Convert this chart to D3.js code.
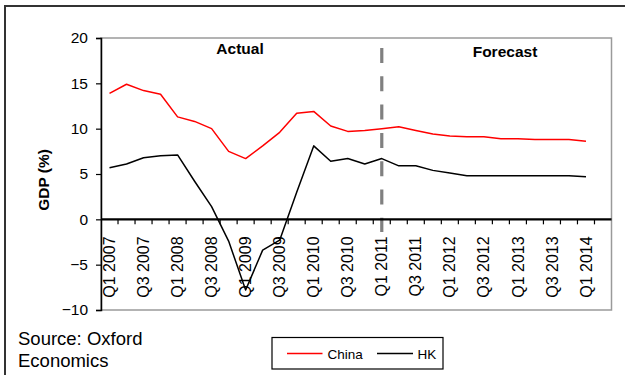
<!DOCTYPE html>
<html>
<head>
<meta charset="utf-8">
<script src="https://cdn.jsdelivr.net/npm/d3@7"></script>
<style>
  html, body { margin: 0; padding: 0; background: #fff; }
  svg { display: block; font-family: "Liberation Sans", Arial, sans-serif; }
</style>
</head>
<body>
<svg id="chart" width="625" height="375"></svg>
<script>
// Quarterly categories, Q1 2007 .. Q2 2014
const quarters = [];
for (let yr = 2007; yr <= 2014; yr++) {
  for (let q = 1; q <= 4; q++) {
    if (yr === 2014 && q > 2) break;
    quarters.push("Q" + q + " " + yr);
  }
}

// Real GDP growth (%), Q1 2007 .. Q1 2014
const china = [13.9, 14.9, 14.2, 13.8, 11.3, 10.8, 10.0, 7.5, 6.7, 8.1,
               9.6, 11.7, 11.9, 10.3, 9.7, 9.8, 10.0, 10.2, 9.8, 9.4,
               9.2, 9.1, 9.1, 8.9, 8.9, 8.8, 8.8, 8.8, 8.6];
const hk = [5.7, 6.1, 6.8, 7.0, 7.1, 4.2, 1.4, -2.4, -7.8, -3.4,
            -2.3, 3.0, 8.1, 6.4, 6.7, 6.1, 6.7, 5.9, 5.9, 5.4,
            5.1, 4.8, 4.8, 4.8, 4.8, 4.8, 4.8, 4.8, 4.7];

const yTicks = [-10, -5, 0, 5, 10, 15, 20];
const forecastStart = "Q1 2011";

const seriesList = [
  { name: "China", values: china, color: "#ff0000" },
  { name: "HK", values: hk, color: "#000000" }
];

const svg = d3.select("#chart");

const plot = { left: 101, right: 611.5, top: 38, bottom: 310 };

const x = d3.scaleBand().domain(quarters).range([plot.left, plot.right]).padding(0);
const y = d3.scaleLinear().domain([-10, 20]).range([plot.bottom, plot.top]);
const cx = q => x(q) + x.bandwidth() / 2;

// Outer frame (top and left edges)
svg.append("line").attr("x1", 5).attr("x2", 625).attr("y1", 6).attr("y2", 6)
  .attr("stroke", "#333").attr("stroke-width", 2);
svg.append("line").attr("x1", 5).attr("x2", 5).attr("y1", 5).attr("y2", 375)
  .attr("stroke", "#333").attr("stroke-width", 2);

// Plot area border
svg.append("rect")
  .attr("x", plot.left).attr("y", plot.top)
  .attr("width", plot.right - plot.left).attr("height", plot.bottom - plot.top)
  .attr("fill", "none").attr("stroke", "#9a9a9a").attr("stroke-width", 1.5);

// Forecast divider
const dx = cx(forecastStart);
svg.append("line")
  .attr("x1", dx).attr("x2", dx).attr("y1", 48).attr("y2", 232)
  .attr("stroke", "#808080").attr("stroke-width", 3.2)
  .attr("stroke-dasharray", "15,13.3");

// Y axis
const yAxis = d3.axisLeft(y).tickValues(yTicks).tickSize(5).tickPadding(8);
const gy = svg.append("g").attr("transform", `translate(${plot.left},0)`).call(yAxis);
gy.select(".domain").attr("stroke", "#000").attr("stroke-width", 1.5);
gy.selectAll(".tick line").attr("stroke", "#000").attr("stroke-width", 1.2);
gy.selectAll(".tick text").attr("font-size", 15.5).attr("fill", "#000")
  .attr("font-family", "Liberation Sans, Arial, sans-serif");

// X axis at zero with ticks on category boundaries
const y0 = y(0);
const xAxis = d3.axisBottom(x)
  .tickValues(quarters.filter(q => q.startsWith("Q1") || q.startsWith("Q3")))
  .tickSize(0).tickPadding(0);
const gx = svg.append("g").attr("transform", `translate(0,${y0})`).call(xAxis);
gx.select(".domain").remove();
gx.selectAll(".tick text")
  .attr("font-size", 16).attr("fill", "#000")
  .attr("font-family", "Liberation Sans, Arial, sans-serif")
  .attr("text-anchor", "end")
  .attr("dy", "0.35em")
  .attr("transform", "translate(0,17) rotate(-90)");

svg.append("line")
  .attr("x1", plot.left).attr("x2", plot.right).attr("y1", y0).attr("y2", y0)
  .attr("stroke", "#000").attr("stroke-width", 2.2);
svg.append("g").selectAll("line")
  .data(quarters.slice(1))
  .join("line")
  .attr("x1", d => x(d)).attr("x2", d => x(d))
  .attr("y1", y0).attr("y2", y0 + 5)
  .attr("stroke", "#000").attr("stroke-width", 1.2);

// Series lines
const line = d3.line()
  .x((d, i) => cx(quarters[i]))
  .y(d => y(d));
seriesList.forEach(s => {
  svg.append("path")
    .datum(s.values)
    .attr("d", line)
    .attr("fill", "none")
    .attr("stroke", s.color)
    .attr("stroke-width", 1.5)
    .attr("stroke-linejoin", "round");
});

// Period labels
svg.append("text").attr("x", 240).attr("y", 54)
  .attr("text-anchor", "middle").attr("font-weight", "bold").attr("font-size", 15.5)
  .text("Actual");
svg.append("text").attr("x", 505).attr("y", 57)
  .attr("text-anchor", "middle").attr("font-weight", "bold").attr("font-size", 15.5)
  .text("Forecast");

// Y axis title
svg.append("text")
  .attr("transform", "translate(49,180) rotate(-90)")
  .attr("text-anchor", "middle").attr("font-weight", "bold").attr("font-size", 15.5)
  .text("GDP (%)");

// Source note
svg.append("text").attr("x", 18).attr("y", 345).attr("font-size", 18.5).text("Source: Oxford");
svg.append("text").attr("x", 18).attr("y", 367).attr("font-size", 18.5).text("Economics");

// Legend
const lg = svg.append("g");
lg.append("rect").attr("x", 272).attr("y", 337.5).attr("width", 171).attr("height", 31.5)
  .attr("fill", "#fff").attr("stroke", "#000").attr("stroke-width", 1.2);
const legendItems = [
  { s: seriesList[0], x1: 287, x2: 322.5, tx: 327.5 },
  { s: seriesList[1], x1: 377, x2: 413, tx: 417.5 }
];
legendItems.forEach(it => {
  lg.append("line").attr("x1", it.x1).attr("x2", it.x2).attr("y1", 353.5).attr("y2", 353.5)
    .attr("stroke", it.s.color).attr("stroke-width", 1.5);
  lg.append("text").attr("x", it.tx).attr("y", 358.5).attr("font-size", 13.5).text(it.s.name);
});
</script>
</body>
</html>
